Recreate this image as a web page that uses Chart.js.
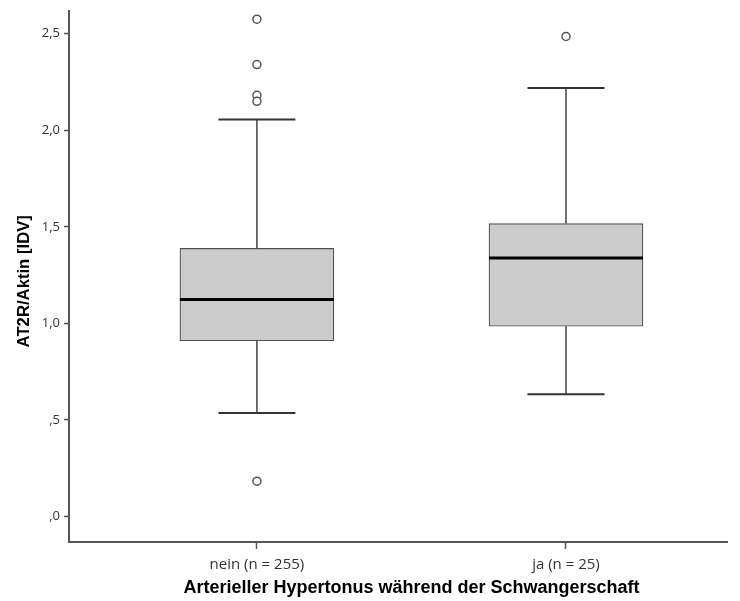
<!DOCTYPE html>
<html>
<head>
<meta charset="utf-8">
<script src="https://cdn.jsdelivr.net/npm/chart.js@4.4.1/dist/chart.umd.min.js"></script>
<style>
  html, body { margin: 0; padding: 0; background: #ffffff; }
  #wrap { width: 740px; height: 601px; }
</style>
</head>
<body>
<div id="wrap"><canvas id="c" width="740" height="601"></canvas></div>
<script>
// ---- data ----
const categories = ['nein (n = 255)', 'ja (n = 25)'];
const q1 = [0.910, 0.985];
const median = [1.124, 1.339];
const q3 = [1.388, 1.517];
const whiskerLow = [0.536, 0.633];
const whiskerHigh = [2.056, 2.219];
const outliersNein = [2.575, 2.340, 2.181, 2.150, 0.183];
const outliersJa = [2.486];
const yTickValues = [0, 0.5, 1.0, 1.5, 2.0, 2.5];
const yTickLabels = [',0', ',5', '1,0', '1,5', '2,0', '2,5'];
const xTitle = 'Arterieller Hypertonus während der Schwangerschaft';
const yTitle = 'AT2R/Aktin [IDV]';

const boxData = categories.map((c, i) => ({ x: i + 1, y: [q1[i], q3[i]] }));
const outlierData = outliersNein.map(v => ({ x: 1, y: v }))
  .concat(outliersJa.map(v => ({ x: 2, y: v })));

const whiskerPlugin = {
  id: 'whiskers',
  afterDatasetsDraw(chart) {
    const ctx = chart.ctx;
    const xs = chart.scales.x, ys = chart.scales.y;
    const meta = chart.getDatasetMeta(0);
    ctx.save();
    categories.forEach((c, i) => {
      const bar = meta.data[i];
      const cx = xs.getPixelForValue(i + 1);
      const half = bar.width / 2;
      const capHalf = half / 2;
      const yQ1 = ys.getPixelForValue(q1[i]);
      const yQ3 = ys.getPixelForValue(q3[i]);
      const yLo = ys.getPixelForValue(whiskerLow[i]);
      const yHi = ys.getPixelForValue(whiskerHigh[i]);
      const yMed = ys.getPixelForValue(median[i]);
      ctx.strokeStyle = '#444444';
      ctx.lineWidth = 1.5;
      ctx.beginPath();
      ctx.moveTo(cx, yQ3); ctx.lineTo(cx, yHi);
      ctx.moveTo(cx, yQ1); ctx.lineTo(cx, yLo);
      ctx.stroke();
      ctx.strokeStyle = '#333333';
      ctx.lineWidth = 2;
      ctx.beginPath();
      ctx.moveTo(cx - capHalf, yHi); ctx.lineTo(cx + capHalf, yHi);
      ctx.moveTo(cx - capHalf, yLo); ctx.lineTo(cx + capHalf, yLo);
      ctx.stroke();
      ctx.strokeStyle = '#000000';
      ctx.lineWidth = 3;
      ctx.beginPath();
      ctx.moveTo(cx - half, yMed); ctx.lineTo(cx + half, yMed);
      ctx.stroke();
    });
    ctx.restore();
  }
};

// axis titles, placed the SPSS way: x title centred between the categories
const titlePlugin = {
  id: 'axisTitles',
  afterDraw(chart) {
    const ctx = chart.ctx;
    const xs = chart.scales.x;
    const area = chart.chartArea;
    ctx.save();
    ctx.fillStyle = '#000000';
    ctx.textAlign = 'center';
    ctx.textBaseline = 'middle';
    ctx.font = 'bold 18px "Liberation Sans"';
    const cx = (xs.getPixelForValue(1) + xs.getPixelForValue(categories.length)) / 2;
    ctx.fillText(xTitle, cx, chart.height - 13);
    ctx.translate(24, (area.top + area.bottom) / 2 + 5);
    ctx.rotate(-Math.PI / 2);
    ctx.font = 'bold 16.7px "Liberation Sans"';
    ctx.fillText(yTitle, 0, 0);
    ctx.restore();
  }
};

new Chart(document.getElementById('c'), {
  type: 'bar',
  data: {
    datasets: [
      {
        type: 'bar',
        data: boxData,
        backgroundColor: '#cccccc',
        borderColor: '#505050',
        borderWidth: 1.2,
        borderSkipped: false,
        barThickness: 154,
        order: 2
      },
      {
        type: 'scatter',
        data: outlierData,
        pointStyle: 'circle',
        pointRadius: 4,
        pointBorderWidth: 1.5,
        pointBorderColor: '#555555',
        pointBackgroundColor: '#ffffff',
        order: 1
      }
    ]
  },
  options: {
    responsive: false,
    devicePixelRatio: 1,
    animation: false,
    layout: { padding: { left: 0, top: 10, right: 13, bottom: 1 } },
    plugins: { legend: { display: false }, tooltip: { enabled: false } },
    scales: {
      x: {
        type: 'linear',
        offset: false,
        min: 0.392,
        max: 2.521,
        afterBuildTicks: (s) => { s.ticks = categories.map((c, i) => ({ value: i + 1 })); },
        afterFit: (s) => { s.height = 58; },
        ticks: {
          callback: (v) => categories[Math.round(v) - 1],
          color: '#333333',
          font: { family: 'Open Sans', size: 15 },
          padding: 7,
          maxRotation: 0
        },
        grid: { offset: false, drawOnChartArea: false, drawTicks: true, tickLength: 7, color: '#555555', tickWidth: 1.5 },
        border: { display: true, color: '#555555', width: 2 },
        title: { display: false }
      },
      y: {
        min: -0.132,
        max: 2.62,
        afterBuildTicks: (s) => { s.ticks = yTickValues.map(v => ({ value: v })); },
        afterFit: (s) => { s.width = 69; },
        ticks: {
          callback: (v) => yTickLabels[yTickValues.indexOf(v)],
          color: '#333333',
          font: { family: 'Open Sans', size: 13, lineHeight: 1 },
          padding: 4
        },
        grid: { drawOnChartArea: false, drawTicks: true, tickLength: 5, color: '#555555', tickWidth: 1.5 },
        border: { display: true, color: '#555555', width: 2 },
        title: { display: false }
      }
    }
  },
  plugins: [whiskerPlugin, titlePlugin]
});
</script>
</body>
</html>
